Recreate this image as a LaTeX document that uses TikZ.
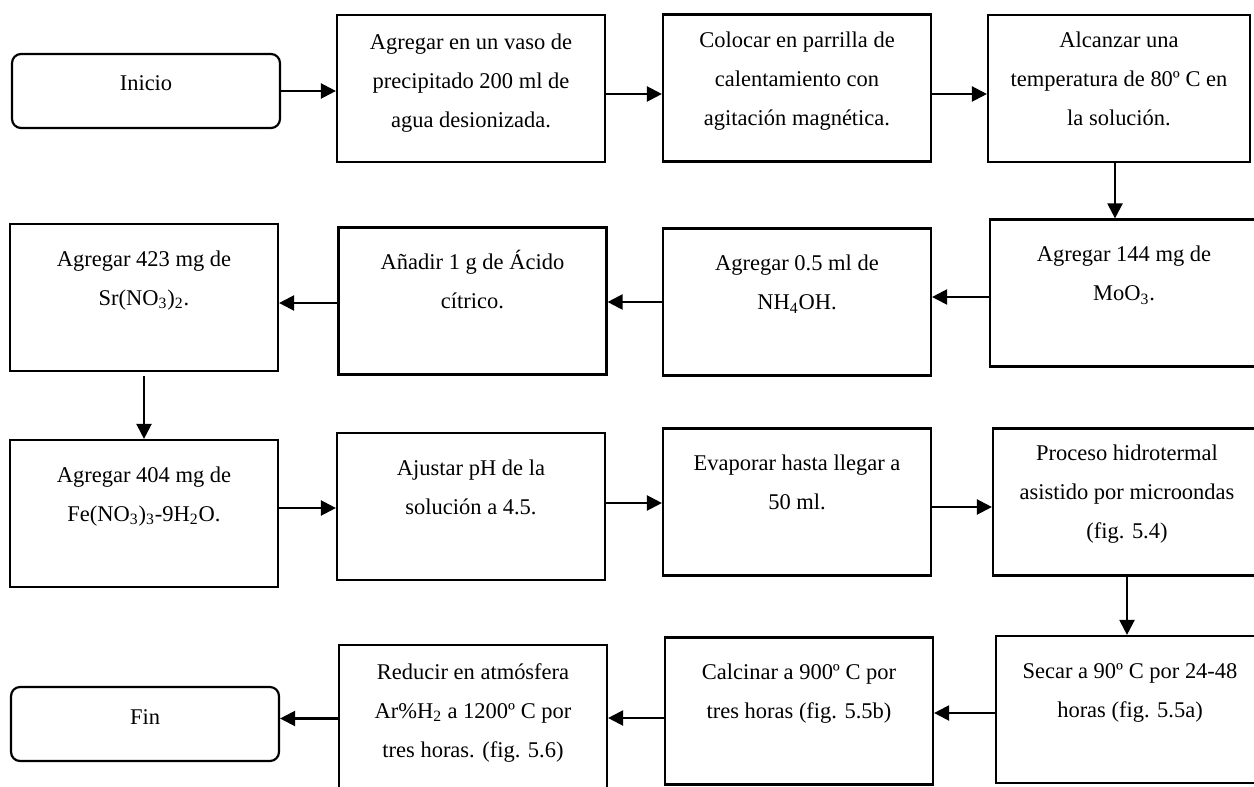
\documentclass[tikz,border=0pt]{standalone}
\usepackage{fontspec}
\setmainfont{Liberation Serif}
\usetikzlibrary{arrows.meta}

\newcommand{\texto}[2][8.6pt]{\parbox[c][2.94cm][t]{5.2cm}{\centering\vspace*{#1}\strut #2}}

\begin{document}
\begin{tikzpicture}[x=0.02cm, y=-0.02cm, line width=1.25pt, >={Triangle[length=3mm,width=3mm]},
  font=\fontsize{12.8pt}{22.2pt}\selectfont,
  paso/.style={draw, inner sep=0pt, minimum width=5.36cm, minimum height=2.94cm},
  terminal/.style={draw, rounded corners=0.18cm, minimum width=5.36cm, minimum height=1.48cm, text height=0.2cm, text depth=0.2cm},
  flecha/.style={->}]
\useasboundingbox (0,0) rectangle (1254,787);
\clip (0,0) rectangle (1254,787);

\node[terminal] (inicio) at (146,91) {Inicio};
\node[paso] (p1) at (471,88.5) {\texto[4pt]{Agregar en un vaso de\\precipitado 200 ml de\\agua desionizada.}};
\node[paso] (p2) at (797,88) {\texto[3pt]{Colocar en parrilla de\\calentamiento con\\agitación magnética.}};
\node[paso, minimum width=5.24cm] (p3) at (1119,88.5) {\texto[3pt]{Alcanzar una\\temperatura de 80º C en\\la solución.}};

\node[paso] (p4) at (1124,293) {\texto{Agregar 144 mg de\\MoO\textsubscript{3}.}};
\node[paso] (p5) at (797,302) {\texto{Agregar 0.5 ml de\\NH\textsubscript{4}OH.}};
\node[paso] (p6) at (472.5,301) {\texto{Añadir 1 g de Ácido\\cítrico.}};
\node[paso] (p7) at (144,297.5) {\texto{Agregar 423 mg de\\Sr(NO\textsubscript{3})\textsubscript{2}.}};

\node[paso] (p8) at (144,513.5) {\texto{Agregar 404 mg de\\Fe(NO\textsubscript{3})\textsubscript{3}-9H\textsubscript{2}O.}};
\node[paso] (p9) at (471,506.5) {\texto{Ajustar pH de la\\solución a 4.5.}};
\node[paso] (p10) at (797,502) {\texto{Evaporar hasta llegar a\\50 ml.}};
\node[paso] (p11) at (1127,502) {\texto[2.5pt]{Proceso hidrotermal\\asistido por microondas\\(fig. 5.4)}};

\node[paso] (p12) at (1130,709.5) {\texto{Secar a 90º C por 24-48\\horas (fig. 5.5a)}};
\node[paso] (p13) at (799,711) {\texto{Calcinar a 900º C por\\tres horas (fig. 5.5b)}};
\node[paso] (p14) at (473,718.5) {\texto[4pt]{Reducir en atmósfera\\Ar\%H\textsubscript{2} a 1200º C por\\tres horas. (fig. 5.6)}};
\node[terminal] (fin) at (145,724) {Fin};

\draw[flecha] (inicio.east) -- (inicio.east -| p1.west);
\draw[flecha] ([yshift=-0.11cm]p1.east) -- ([yshift=-0.11cm]p1.east -| p2.west);
\draw[flecha] ([yshift=-0.12cm]p2.east) -- ([yshift=-0.12cm]p2.east -| p3.west);
\draw[flecha] ([xshift=-0.08cm]p3.south) -- ([xshift=-0.08cm]p3.south |- p4.north);
\draw[flecha] ([yshift=-0.08cm]p4.west) -- ([yshift=-0.08cm]p4.west -| p5.east);
\draw[flecha] (p5.west) -- (p5.west -| p6.east);
\draw[flecha] ([yshift=-0.04cm]p6.west) -- ([yshift=-0.04cm]p6.west -| p7.east);
\draw[flecha] ([yshift=-0.08cm]p7.south) -- (p7.south |- p8.north);
\draw[flecha] ([yshift=0.11cm]p8.east) -- ([yshift=0.11cm]p8.east -| p9.west);
\draw[flecha] ([yshift=0.07cm]p9.east) -- ([yshift=0.07cm]p9.east -| p10.west);
\draw[flecha] ([yshift=-0.1cm]p10.east) -- ([yshift=-0.1cm]p10.east -| p11.west);
\draw[flecha] (p11.south) -- (p11.south |- p12.north);
\draw[flecha] ([yshift=-0.07cm]p12.west) -- ([yshift=-0.07cm]p12.west -| p13.east);
\draw[flecha] ([yshift=-0.14cm]p13.west) -- ([yshift=-0.14cm]p13.west -| p14.east);
\draw[flecha] (p14.west) -- (p14.west -| fin.east);
\end{tikzpicture}
\end{document}
